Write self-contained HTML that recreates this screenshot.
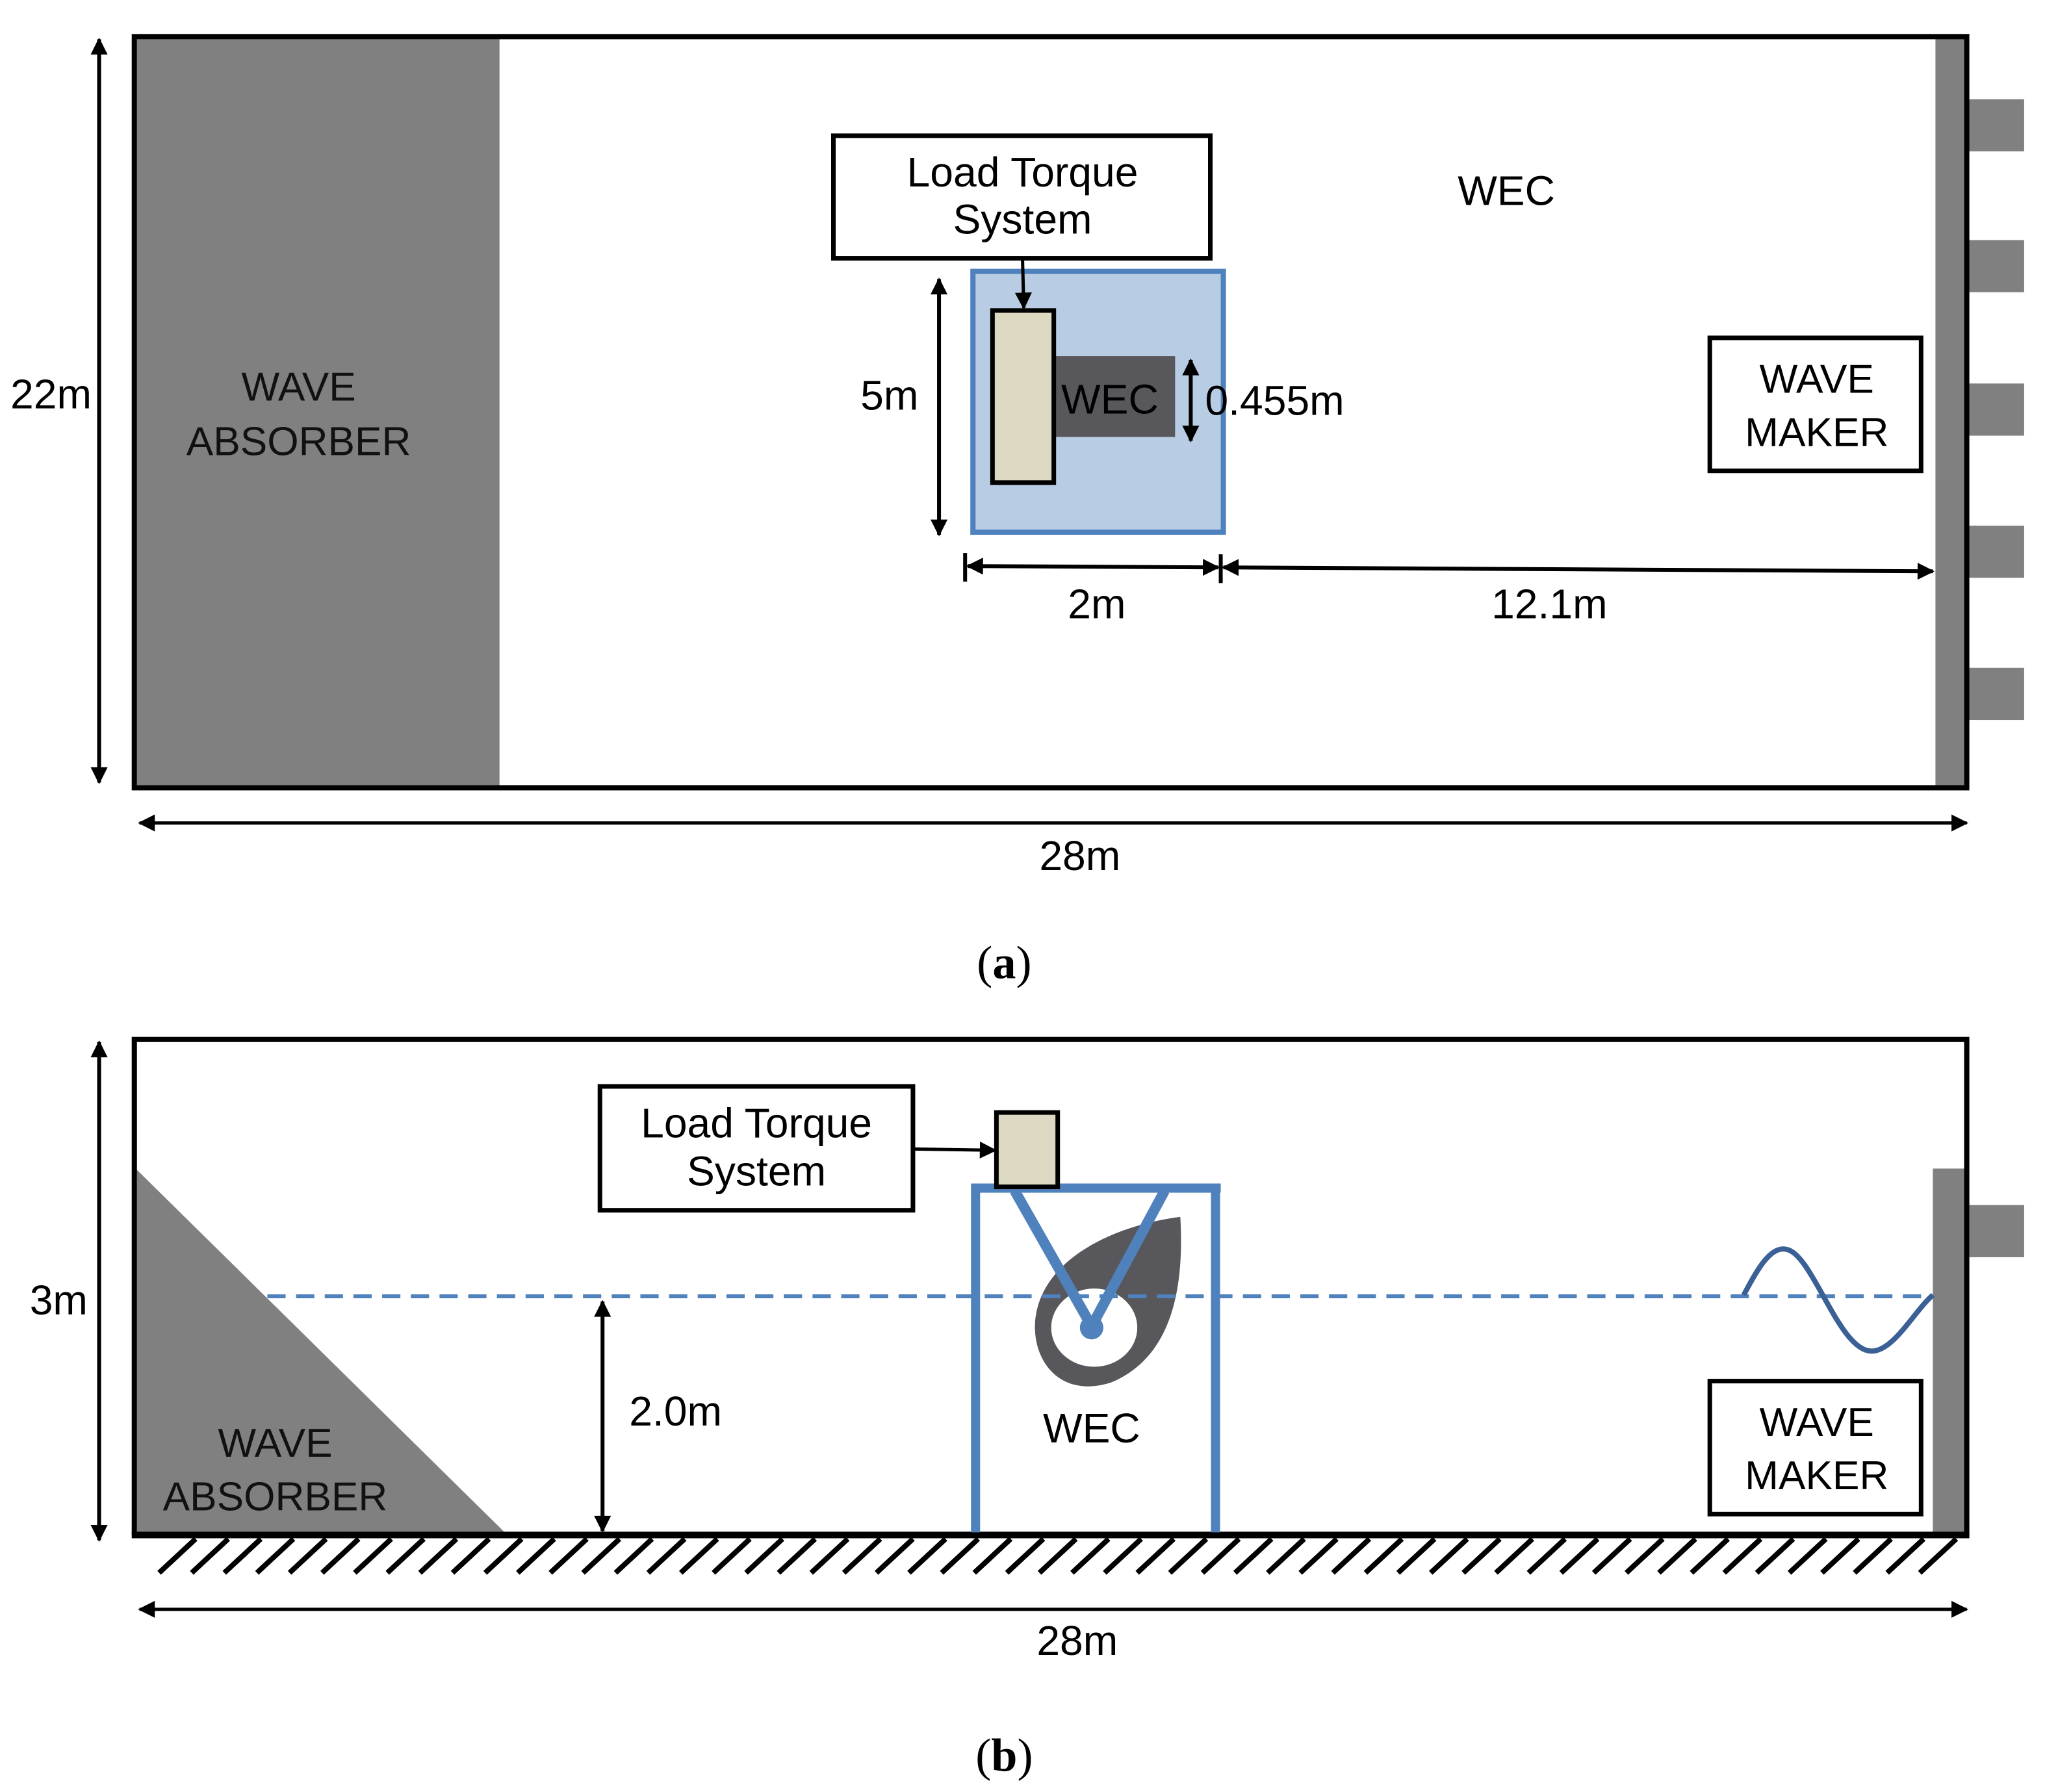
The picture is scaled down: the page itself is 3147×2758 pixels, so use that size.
<!DOCTYPE html>
<html><head><meta charset="utf-8"><style>html,body{margin:0;padding:0;background:#fff}svg{display:block}</style></head>
<body>
<svg width="3147" height="2758" viewBox="0 0 1568 1374" xmlns="http://www.w3.org/2000/svg" font-family="Liberation Sans, DejaVu Sans, sans-serif">
<defs>
<marker id="ah" viewBox="0 0 10 10" refX="9" refY="5" markerWidth="16" markerHeight="13" markerUnits="userSpaceOnUse" orient="auto-start-reverse"><path d="M0,0 L10,5 L0,10 z" fill="#000"/></marker>
</defs>
<rect width="1568" height="1374" fill="#fff"/>
<!-- ===== Panel a ===== -->
<rect x="105" y="30" width="278" height="572" fill="#808080"/>
<rect x="1484" y="28" width="22" height="576" fill="#808080"/>
<g fill="#808080">
<rect x="1508" y="76" width="44" height="40"/><rect x="1508" y="184" width="44" height="40"/>
<rect x="1508" y="294" width="44" height="40"/><rect x="1508" y="403" width="44" height="40"/>
<rect x="1508" y="512" width="44" height="40"/></g>
<rect x="103" y="28" width="1405" height="576" fill="none" stroke="#000" stroke-width="4"/>
<line x1="76" y1="30" x2="76" y2="600" stroke="#000" stroke-width="3" marker-start="url(#ah)" marker-end="url(#ah)"/>
<text x="8" y="313" font-size="32">22m</text>
<g font-size="31" text-anchor="middle" fill="#111">
<text x="229" y="307">WAVE</text><text x="229" y="349">ABSORBER</text></g>
<rect x="639" y="104" width="289" height="94" fill="#fff" stroke="#000" stroke-width="3.5"/>
<g font-size="32" text-anchor="middle"><text x="784" y="143">Load Torque</text><text x="784" y="179">System</text>
<text x="1155" y="157">WEC</text></g>
<rect x="746" y="208" width="192" height="200" fill="#b8cce4" stroke="#4f81bd" stroke-width="4"/>
<rect x="808" y="273" width="93" height="62" fill="#58585c"/>
<rect x="761" y="238" width="47" height="132" fill="#ddd8c2" stroke="#000" stroke-width="3.5"/>
<text x="851" y="317" font-size="32" text-anchor="middle" fill="#000">WEC</text>
<line x1="784" y1="198" x2="785" y2="236" stroke="#000" stroke-width="2.5" marker-end="url(#ah)"/>
<line x1="913" y1="276" x2="913" y2="338" stroke="#000" stroke-width="3" marker-start="url(#ah)" marker-end="url(#ah)"/>
<text x="924" y="318" font-size="32">0.455m</text>
<line x1="720" y1="214" x2="720" y2="410" stroke="#000" stroke-width="3" marker-start="url(#ah)" marker-end="url(#ah)"/>
<text x="682" y="314" font-size="32" text-anchor="middle">5m</text>
<line x1="740" y1="424" x2="740" y2="446" stroke="#000" stroke-width="3"/>
<line x1="936" y1="425" x2="936" y2="447" stroke="#000" stroke-width="3"/>
<line x1="742" y1="434" x2="934" y2="435" stroke="#000" stroke-width="3" marker-start="url(#ah)" marker-end="url(#ah)"/>
<line x1="938" y1="435" x2="1482" y2="438" stroke="#000" stroke-width="3" marker-start="url(#ah)" marker-end="url(#ah)"/>
<g font-size="32" text-anchor="middle"><text x="841" y="474">2m</text><text x="1188" y="474">12.1m</text></g>
<rect x="1311" y="259" width="162" height="102" fill="#fff" stroke="#000" stroke-width="3.5"/>
<g font-size="31" text-anchor="middle"><text x="1393" y="301">WAVE</text><text x="1393" y="342">MAKER</text></g>
<line x1="107" y1="631" x2="1508" y2="631" stroke="#000" stroke-width="2.5" marker-start="url(#ah)" marker-end="url(#ah)"/>
<text x="828" y="667" font-size="32" text-anchor="middle">28m</text>
<text x="770" y="750" font-size="36" text-anchor="middle" font-family="Liberation Serif, serif">(<tspan font-weight="bold">a</tspan>)</text>
<!-- ===== Panel b ===== -->
<polygon points="105,897 105,1175 387,1175" fill="#808080"/>
<rect x="1482" y="896" width="26" height="279" fill="#808080"/>
<rect x="1510" y="924" width="42" height="40" fill="#808080"/>
<path d="M103,1177 L103,797 L1508,797 L1508,1177" fill="none" stroke="#000" stroke-width="4"/>
<line x1="101" y1="1177" x2="1510" y2="1177" stroke="#000" stroke-width="5"/>
<g stroke="#000" stroke-width="4">
<path d="M150,1180 l-28,26 M175,1180 l-28,26 M200,1180 l-28,26 M225,1180 l-28,26 M250,1180 l-28,26 M275,1180 l-28,26 M300,1180 l-28,26 M325,1180 l-28,26 M350,1180 l-28,26 M375,1180 l-28,26 M400,1180 l-28,26 M425,1180 l-28,26 M450,1180 l-28,26 M475,1180 l-28,26 M500,1180 l-28,26 M525,1180 l-28,26 M550,1180 l-28,26 M575,1180 l-28,26 M600,1180 l-28,26 M625,1180 l-28,26 M650,1180 l-28,26 M675,1180 l-28,26 M700,1180 l-28,26 M725,1180 l-28,26 M750,1180 l-28,26 M775,1180 l-28,26 M800,1180 l-28,26 M825,1180 l-28,26 M850,1180 l-28,26 M875,1180 l-28,26 M900,1180 l-28,26 M925,1180 l-28,26 M950,1180 l-28,26 M975,1180 l-28,26 M1000,1180 l-28,26 M1025,1180 l-28,26 M1050,1180 l-28,26 M1075,1180 l-28,26 M1100,1180 l-28,26 M1125,1180 l-28,26 M1150,1180 l-28,26 M1175,1180 l-28,26 M1200,1180 l-28,26 M1225,1180 l-28,26 M1250,1180 l-28,26 M1275,1180 l-28,26 M1300,1180 l-28,26 M1325,1180 l-28,26 M1350,1180 l-28,26 M1375,1180 l-28,26 M1400,1180 l-28,26 M1425,1180 l-28,26 M1450,1180 l-28,26 M1475,1180 l-28,26 M1500,1180 l-28,26"/></g>
<g font-size="31" text-anchor="middle" fill="#111"><text x="211" y="1117">WAVE</text><text x="211" y="1158">ABSORBER</text></g>
<line x1="76" y1="799" x2="76" y2="1181" stroke="#000" stroke-width="3" marker-start="url(#ah)" marker-end="url(#ah)"/>
<text x="45" y="1008" font-size="32" text-anchor="middle">3m</text>
<rect x="460" y="833" width="240" height="95" fill="#fff" stroke="#000" stroke-width="3.5"/>
<g font-size="32" text-anchor="middle"><text x="580" y="872">Load Torque</text><text x="580" y="909">System</text></g>
<line x1="700" y1="881" x2="763" y2="882" stroke="#000" stroke-width="2.5" marker-end="url(#ah)"/>
<!-- leaf -->
<path d="M905,933 C908,985 900,1040 852,1060 C812,1073 790,1042 794,1010 C800,966 852,940 905,933 Z" fill="#58585c"/>
<ellipse cx="839" cy="1018" rx="33" ry="30" fill="#fff"/>
<line x1="205" y1="994" x2="1482" y2="994" stroke="#4f81bd" stroke-width="3" stroke-dasharray="14 8"/>
<path d="M748,1175 L748,911 L936,911 M932,911 L932,1175" fill="none" stroke="#4f81bd" stroke-width="7"/>
<polyline points="778,913 837,1017 893,913" fill="none" stroke="#4f81bd" stroke-width="8"/>
<circle cx="837" cy="1018" r="9" fill="#4f81bd"/>
<rect x="764" y="853" width="47" height="57" fill="#ddd8c2" stroke="#000" stroke-width="3.5"/>
<text x="837" y="1106" font-size="32" text-anchor="middle">WEC</text>
<line x1="462" y1="998" x2="462" y2="1174" stroke="#000" stroke-width="3" marker-start="url(#ah)" marker-end="url(#ah)"/>
<text x="518" y="1093" font-size="32" text-anchor="middle">2.0m</text>
<path d="M1337,993 C1348,972 1358,955 1370,958 C1390,962 1410,1036 1435,1036 C1452,1036 1468,1005 1482,993" fill="none" stroke="#3a6096" stroke-width="4"/>
<rect x="1311" y="1059" width="162" height="102" fill="#fff" stroke="#000" stroke-width="3.5"/>
<g font-size="31" text-anchor="middle"><text x="1393" y="1101">WAVE</text><text x="1393" y="1142">MAKER</text></g>
<line x1="107" y1="1234" x2="1508" y2="1234" stroke="#000" stroke-width="2.5" marker-start="url(#ah)" marker-end="url(#ah)"/>
<text x="826" y="1269" font-size="32" text-anchor="middle">28m</text>
<text x="770" y="1358" font-size="36" text-anchor="middle" font-family="Liberation Serif, serif">(<tspan font-weight="bold">b</tspan>)</text>
</svg>
</body></html>
